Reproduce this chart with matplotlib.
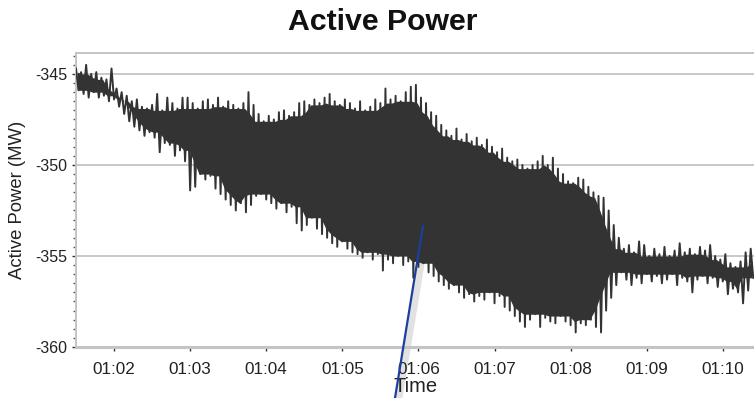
import numpy as np
import matplotlib
matplotlib.use('Agg')
import matplotlib.pyplot as plt
from matplotlib.ticker import FixedLocator, MultipleLocator, FuncFormatter
from matplotlib.lines import Line2D

plt.rcParams['font.family'] = ['Liberation Sans', 'DejaVu Sans']

# seconds after 01:00:00, one peak/trough pair every 4 s
t_start = 90
t_step = 4

# upper envelope (peaks), MW
peaks = [
    -344.7, -344.9, -344.5, -345.0, -344.9, -345.2, -345.3, -344.7, -345.8, -346.0,
    -346.2, -346.5, -346.4, -346.8, -346.9, -346.7, -346.1, -347.0, -346.3, -346.6,
    -346.9, -346.3, -346.3, -346.6, -346.9, -346.5, -346.4, -346.7, -346.3, -346.8,
    -346.5, -346.7, -346.9, -346.6, -346.0, -346.7, -347.2, -347.6, -347.3, -347.5,
    -347.1, -347.0, -347.3, -347.1, -346.6, -346.5, -346.7, -346.4, -346.6, -346.3,
    -346.1, -346.5, -346.7, -346.4, -346.6, -346.9, -346.5, -347.0, -346.8, -346.4,
    -346.6, -345.8, -346.4, -346.2, -346.5, -346.0, -345.7, -345.6, -346.3, -346.6,
    -347.1, -347.3, -347.8, -348.1, -348.4, -348.0, -348.6, -348.3, -348.7, -348.5,
    -348.9, -348.6, -349.0, -349.3, -349.1, -349.6, -349.8, -349.7, -350.0, -350.2,
    -350.0, -349.8, -349.5, -350.0, -349.6, -350.2, -350.5, -350.9, -351.0, -350.7,
    -350.8, -351.2, -351.5, -351.7, -351.8, -352.5, -353.3, -354.0, -354.6, -354.4,
    -354.8, -354.2, -354.4, -355.0, -354.6, -354.9, -354.5, -355.0, -354.7, -354.3,
    -354.8, -354.6, -354.9, -354.5, -354.7, -354.4, -355.0, -355.2, -354.9, -355.4,
    -355.6, -355.3, -354.8, -354.6,
]

# lower envelope (troughs), MW
troughs = [
    -345.9, -346.1, -346.3, -346.0, -346.3, -346.2, -346.5, -346.4, -346.8, -347.2,
    -347.6, -347.9, -348.1, -348.4, -348.2, -348.5, -349.3, -348.8, -348.9, -349.5,
    -349.2, -349.8, -351.4, -351.2, -350.5, -350.8, -350.6, -351.3, -351.6, -351.9,
    -352.2, -352.5, -352.1, -352.6, -352.2, -351.7, -351.6, -351.9, -352.1, -352.4,
    -352.1, -352.6, -352.3, -353.2, -353.6, -353.3, -352.9, -353.5, -353.8, -354.0,
    -354.3, -354.5, -354.2, -354.6, -354.8, -354.9, -355.1, -354.8, -355.2, -354.9,
    -355.8, -355.2, -355.4, -355.0, -355.5, -355.3, -356.2, -355.6, -355.4, -355.9,
    -356.1, -356.4, -356.6, -356.8, -356.6, -357.0, -357.3, -357.1, -357.5, -357.2,
    -357.4, -357.0, -357.6, -357.2, -357.8, -358.0, -358.3, -358.6, -358.9, -358.5,
    -358.2, -358.9, -358.4, -358.6, -358.7, -358.3, -358.6, -358.8, -359.2, -358.7,
    -358.8, -358.5, -358.9, -359.2, -358.0, -357.3, -356.6, -355.9, -356.3, -356.6,
    -356.2, -356.5, -356.0, -356.4, -356.1, -356.5, -356.3, -356.0, -356.6, -356.2,
    -356.4, -357.0, -356.3, -356.1, -356.5, -356.2, -356.7, -356.4, -357.1, -356.8,
    -357.0, -357.6, -356.9, -356.2,
]

x_ticks = [120, 180, 240, 300, 360, 420, 480, 540, 600]
y_ticks = [-360, -355, -350, -345]

# interleave peaks and troughs into one trace
n = len(peaks)
t_peak = t_start + t_step * np.arange(n)
t = np.empty(2 * n)
p = np.empty(2 * n)
t[0::2] = t_peak
t[1::2] = t_peak + t_step / 2
p[0::2] = peaks
p[1::2] = troughs

# inner band that all nearby strokes cross -> solid core, spikes stay visible
w = 2
pk_pad = np.pad(np.array(peaks), w, mode='edge')
tr_pad = np.pad(np.array(troughs), w, mode='edge')
inner_top = np.minimum.reduce([pk_pad[k:k + n] for k in range(2 * w + 1)])
inner_bot = np.maximum.reduce([tr_pad[k:k + n] for k in range(2 * w + 1)])

fig = plt.figure(figsize=(7.54, 3.98), dpi=100)
ax = fig.add_axes([76 / 754, 1 - 347 / 398, 1 - 76 / 754, (347 - 53) / 398])
ax.patch.set_visible(False)

ax.fill_between(t_peak + t_step / 4, inner_top, inner_bot, color='#333333', lw=0, zorder=2)
ax.plot(t, p, color='#333333', lw=1.4, zorder=3)

ax.set_xlim(90, 624.6)
ax.set_ylim(-360, -343.85)

ax.yaxis.set_major_locator(FixedLocator(y_ticks))
ax.yaxis.set_minor_locator(MultipleLocator(0.5))
ax.xaxis.set_major_locator(FixedLocator(x_ticks))
ax.xaxis.set_major_formatter(FuncFormatter(lambda v, pos: '01:%02d' % int(round(v / 60))))
ax.yaxis.set_major_formatter(FuncFormatter(lambda v, pos: '%d' % v))

ax.grid(axis='y', color='#c8c8c8', lw=1.4, zorder=0)
ax.set_axisbelow(True)
for s in ['left', 'top']:
    ax.spines[s].set_color('#c4c4c4')
    ax.spines[s].set_linewidth(1.4)
ax.spines['bottom'].set_color('#c4c4c4')
ax.spines['bottom'].set_linewidth(2.2)
ax.spines['right'].set_visible(False)

ax.tick_params(axis='y', which='major', length=3, width=1, color='#333333',
               labelsize=11.5, pad=3, labelcolor='#222222')
ax.tick_params(axis='y', which='minor', length=2, width=1, color='#555555')
ax.tick_params(axis='x', which='major', length=3, width=1, color='#333333',
               labelsize=12.3, pad=8, labelcolor='#222222')

fig.text(383 / 754, 1 - 22 / 398, 'Active Power', ha='center', va='center',
         fontsize=21.8, fontweight='bold', color='#111111')
fig.text(18 / 754, 1 - 200 / 398, 'Active Power (MW)', ha='center', va='center',
         rotation=90, fontsize=13.3, color='#222222')
fig.text(416 / 754, 1 - 386 / 398, 'Time', ha='center', va='center',
         fontsize=14.5, color='#222222')

# blue cursor line; its faint shadow sits behind the data
fig.add_artist(Line2D([399 / 754, 427 / 754], [0, 1 - 228 / 398],
                      transform=fig.transFigure, color='#e2e2e2', lw=5, zorder=-1))
fig.add_artist(Line2D([395 / 754, 423 / 754], [0, 1 - 226 / 398],
                      transform=fig.transFigure, color='#1a3f9c', lw=1.6, zorder=5))

fig.savefig('out.png', dpi=100)
